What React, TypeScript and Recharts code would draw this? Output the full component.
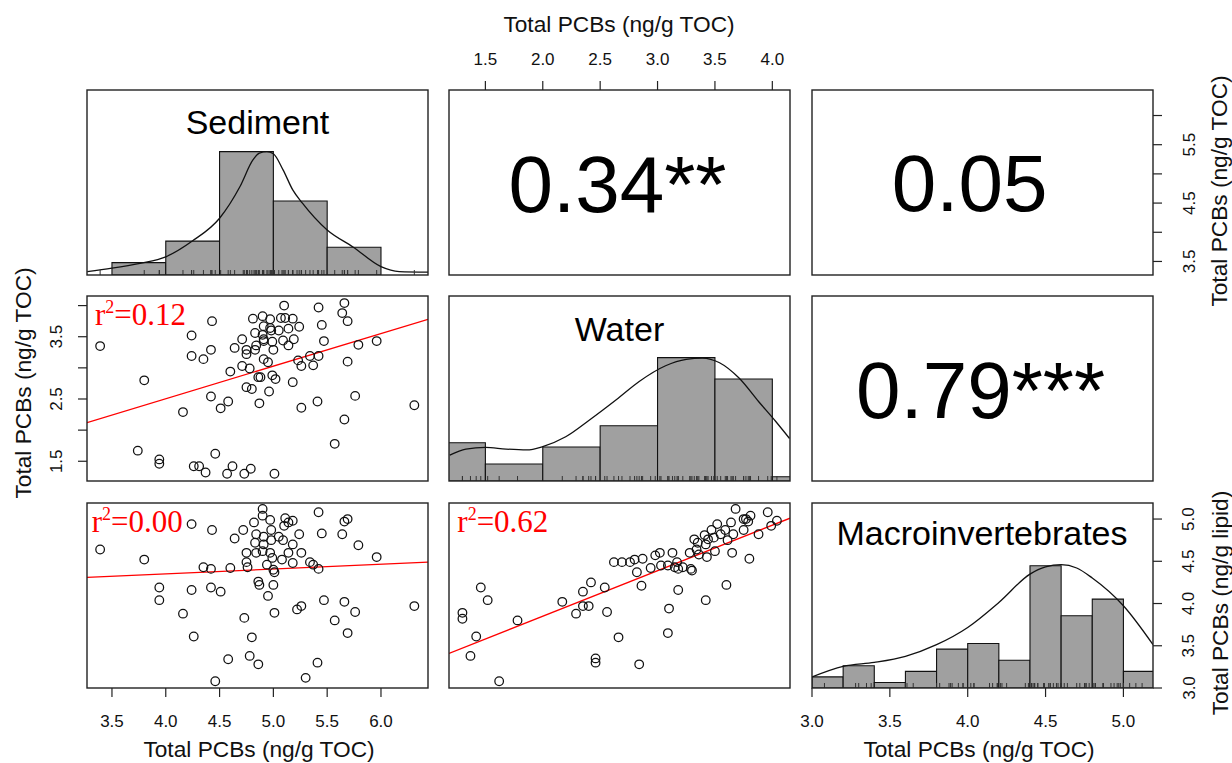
import React from "react";
import { ComposedChart, XAxis, YAxis, Line, Scatter, ReferenceArea } from "recharts";

const FONT = "'Liberation Sans', Arial, Helvetica, sans-serif";
const SERIF = "'Liberation Serif', 'Times New Roman', serif";

type Pt = [number, number];

// axis ranges (data range + 4%, as R draws them)
const sedDomain = [3.268, 6.437];
const waterDomain = [1.183, 4.154];
const macroDomain = [3.0, 5.19];

const sedTicks = [3.5, 4.0, 4.5, 5.0, 5.5, 6.0];
const sedSideLabels = [3.5, 4.5, 5.5];
const waterTicks = [1.5, 2.0, 2.5, 3.0, 3.5, 4.0];
const waterSideLabels = [1.5, 2.5, 3.5];
const macroTicks = [3.0, 3.5, 4.0, 4.5, 5.0];

// histograms (counts per bin)
const sedBreaks = [3.5, 4.0, 4.5, 5.0, 5.5, 6.0];
const sedCounts = [4, 11, 40, 24, 9];
const waterBreaks = [1.0, 1.5, 2.0, 2.5, 3.0, 3.5, 4.0, 4.5];
const waterCounts = [9, 4, 8, 13, 29, 24, 1];
const macroBreaks = [3.0, 3.2, 3.4, 3.6, 3.8, 4.0, 4.2, 4.4, 4.6, 4.8, 5.0, 5.2];
const macroCounts = [2, 4, 1, 3, 7, 8, 5, 22, 13, 16, 3];
const sedHistMax = 60;
const waterHistMax = 43.5;
const macroHistMax = 33.3;

// density curves, in count units
const sedDensity: Pt[] = [
  [3.27, 1.1], [3.5, 2.2], [3.76, 3.8], [4.0, 5.9], [4.25, 11.1], [4.5, 18.4], [4.69, 28.7],
  [4.81, 37.3], [4.87, 39.5], [4.94, 40.0], [5.0, 39.3], [5.09, 34.1], [5.18, 27.6], [5.27, 23.3],
  [5.5, 14.6], [5.74, 9.1], [6.0, 2.7], [6.17, 1.1], [6.44, 0.9],
];
const waterDensity: Pt[] = [
  [1.19, 6.1], [1.33, 7.5], [1.5, 7.9], [1.68, 7.5], [1.86, 7.3], [2.0, 8.1], [2.2, 10.4],
  [2.41, 14.4], [2.64, 19.1], [2.84, 23.4], [3.07, 27.1], [3.25, 28.6], [3.39, 28.9],
  [3.54, 27.8], [3.71, 24.2], [3.88, 18.7], [4.03, 14.0], [4.15, 10.0],
];
const macroDensity: Pt[] = [
  [3.0, 2.0], [3.2, 3.9], [3.4, 4.6], [3.6, 5.7], [3.8, 7.8], [4.0, 10.9], [4.2, 15.4],
  [4.4, 20.5], [4.5, 21.8], [4.6, 22.2], [4.7, 21.6], [4.8, 19.8], [5.0, 14.8], [5.19, 7.8],
];

// scatter panels
const sedVsWater: Pt[] = [
  [3.39, 3.35], [3.8, 2.8], [3.74, 1.67], [3.94, 1.53], [3.94, 1.46], [4.16, 2.29], [4.24, 3.52],
  [4.24, 3.19], [4.26, 1.42], [4.31, 1.42], [4.35, 3.14], [4.37, 1.32], [4.42, 3.29], [4.43, 3.75],
  [4.42, 2.54], [4.46, 1.62], [4.51, 2.35], [4.58, 2.46], [4.57, 1.3], [4.62, 1.42], [4.6, 2.94],
  [4.64, 3.32], [4.71, 3.46], [4.71, 3.03], [4.73, 1.3], [4.75, 3.29], [4.75, 3.22], [4.75, 2.69],
  [4.78, 2.99], [4.79, 1.38], [4.8, 2.66], [4.81, 3.79], [4.83, 3.56], [4.84, 3.36], [4.83, 3.29],
  [4.86, 2.85], [4.87, 2.43], [4.88, 2.85], [4.9, 3.83], [4.91, 3.67], [4.9, 3.53], [4.91, 3.46],
  [4.91, 3.43], [4.91, 3.14], [4.95, 3.09], [4.96, 2.62], [4.97, 3.78], [4.97, 3.64], [4.98, 3.6],
  [4.99, 3.42], [4.99, 2.88], [5.0, 3.29], [5.02, 2.82], [5.01, 1.3], [5.05, 3.6], [5.07, 3.8],
  [5.1, 4.0], [5.09, 3.44], [5.11, 3.8], [5.14, 3.63], [5.14, 3.36], [5.18, 2.77], [5.18, 3.79],
  [5.19, 3.46], [5.24, 3.66], [5.23, 3.12], [5.26, 2.36], [5.26, 3.03], [5.34, 3.19], [5.37, 3.04],
  [5.41, 2.46], [5.42, 3.97], [5.42, 3.19], [5.45, 3.69], [5.47, 3.43], [5.57, 1.78], [5.64, 3.88],
  [5.66, 4.04], [5.66, 2.17], [5.69, 3.75], [5.69, 3.1], [5.76, 2.55], [5.79, 3.37], [5.96, 3.43],
  [6.31, 2.4],
];
const sedVsMacro: Pt[] = [
  [3.39, 4.64], [3.8, 4.52], [3.94, 4.19], [3.94, 4.04], [4.16, 3.88], [4.24, 4.94], [4.24, 4.16],
  [4.26, 3.61], [4.35, 4.43], [4.43, 4.87], [4.42, 4.41], [4.42, 4.19], [4.46, 3.08], [4.51, 4.14],
  [4.58, 3.34], [4.6, 4.42], [4.64, 4.77], [4.72, 4.87], [4.73, 3.83], [4.75, 4.49], [4.76, 4.43],
  [4.75, 4.6], [4.78, 3.38], [4.8, 3.6], [4.82, 4.96], [4.83, 4.72], [4.84, 4.82], [4.84, 4.6],
  [4.86, 4.26], [4.87, 4.22], [4.86, 3.28], [4.9, 5.12], [4.9, 5.04], [4.91, 4.79], [4.91, 4.7],
  [4.9, 4.62], [4.94, 4.46], [4.95, 4.09], [4.97, 4.99], [4.97, 4.6], [4.98, 4.87], [4.98, 4.75],
  [4.99, 4.54], [5.0, 4.4], [5.01, 4.37], [5.0, 4.22], [5.01, 3.89], [5.05, 4.79], [5.08, 4.52],
  [5.09, 4.75], [5.1, 4.92], [5.11, 5.01], [5.14, 4.96], [5.14, 4.6], [5.18, 4.98], [5.18, 4.7],
  [5.18, 4.48], [5.22, 3.93], [5.26, 3.97], [5.24, 4.82], [5.26, 4.6], [5.3, 3.12], [5.34, 4.49],
  [5.37, 4.46], [5.41, 3.3], [5.42, 5.08], [5.42, 4.41], [5.45, 4.83], [5.47, 4.04], [5.57, 3.8],
  [5.64, 4.82], [5.66, 4.97], [5.66, 4.02], [5.69, 5.0], [5.69, 3.65], [5.76, 3.9], [5.79, 4.69],
  [5.96, 4.55], [6.31, 3.97],
];
const waterVsMacro: Pt[] = [
  [1.3, 3.89], [1.3, 3.82], [1.37, 3.38], [1.42, 3.61], [1.46, 4.19], [1.52, 4.04], [1.62, 3.08],
  [1.78, 3.8], [2.17, 4.02], [2.29, 3.88], [2.35, 4.14], [2.35, 3.97], [2.4, 3.97], [2.42, 4.25],
  [2.46, 3.35], [2.46, 3.3], [2.54, 4.19], [2.56, 3.9], [2.62, 4.49], [2.69, 4.49], [2.66, 3.6],
  [2.76, 4.49], [2.8, 4.52], [2.82, 4.37], [2.84, 3.28], [2.86, 4.21], [2.87, 4.53], [2.94, 4.42],
  [2.98, 4.57], [3.02, 4.6], [3.03, 4.45], [3.09, 4.45], [3.09, 3.65], [3.1, 3.94], [3.13, 4.6],
  [3.15, 4.43], [3.17, 4.49], [3.18, 4.41], [3.18, 4.16], [3.22, 4.43], [3.28, 4.6], [3.29, 4.41],
  [3.3, 4.39], [3.32, 4.76], [3.34, 4.64], [3.35, 4.72], [3.36, 4.58], [3.41, 4.81], [3.42, 4.7],
  [3.42, 4.04], [3.43, 4.55], [3.44, 4.76], [3.47, 4.87], [3.49, 4.78], [3.5, 4.62], [3.52, 4.94],
  [3.55, 4.82], [3.59, 4.87], [3.6, 4.22], [3.61, 4.75], [3.64, 4.96], [3.65, 4.6], [3.66, 4.82],
  [3.68, 5.12], [3.75, 4.87], [3.75, 5.0], [3.77, 5.0], [3.79, 4.97], [3.81, 5.04], [3.8, 4.53],
  [3.88, 4.82], [3.96, 5.08], [3.99, 4.92], [4.04, 4.98],
];

// fitted lines, end points read at the panel edges
const sedWaterFit: Pt[] = [[3.268, 2.12], [6.437, 3.78]];
const sedMacroFit: Pt[] = [[3.268, 4.31], [6.437, 4.49]];
const waterMacroFit: Pt[] = [[1.183, 3.41], [4.154, 5.01]];

// layout
const PW = 341;
const PH = 185;
const colX = [87, 449, 812];
const rowY = [90, 296, 503];

const toXY = (pts: Pt[]) => pts.map(([x, y]) => ({ x, y }));
const toRug = (vals: number[]) => vals.map((x) => ({ x, y: 0 }));
const toBins = (br: number[], counts: number[]) =>
  counts.map((n, i) => ({ x1: br[i], x2: br[i + 1], n }));

const sedRug = toRug(sedVsMacro.map((p) => p[0]));
const waterRug = toRug(waterVsMacro.map((p) => p[0]));
const macroRug = toRug(waterVsMacro.map((p) => p[1]));

const ring = (p: any) => (
  <circle cx={p.cx} cy={p.cy} r={4.3} fill="none" stroke="#111" strokeWidth={1.25} />
);
const rugTick = (p: any) => (
  <line x1={p.cx} x2={p.cx} y1={p.cy} y2={p.cy - 5} stroke="#333" strokeWidth={1} />
);

const tickLine = { stroke: "#222", strokeWidth: 1.2 };
const noMargin = { top: 0, right: 0, bottom: 0, left: 0 };

const flatTick = (labelY: number) => (p: any) => (
  <text x={p.x} y={labelY} textAnchor="middle" fontSize={17} fill="#111" fontFamily={FONT}>
    {Number(p.payload.value).toFixed(1)}
  </text>
);
const sideTick = (labelX: number, shown: number[]) => (p: any) => {
  const v = Number(p.payload.value);
  if (!shown.some((s) => Math.abs(s - v) < 1e-6)) return <g />;
  return (
    <text
      x={labelX}
      y={p.y}
      transform={`rotate(-90 ${labelX} ${p.y})`}
      textAnchor="middle"
      fontSize={17}
      fill="#111"
      fontFamily={FONT}
    >
      {v.toFixed(1)}
    </text>
  );
};

function histLayers(br: number[], counts: number[], dens: Pt[], rug: any[], yId: string | number = 0) {
  return [
    ...toBins(br, counts).map((b, i) => (
      <ReferenceArea
        key={"b" + i}
        yAxisId={yId}
        x1={b.x1}
        x2={b.x2}
        y1={0}
        y2={b.n}
        fill="#a0a0a0"
        fillOpacity={1}
        stroke="#111"
        strokeWidth={1.1}
        ifOverflow="hidden"
      />
    )),
    <Line
      key="dens"
      yAxisId={yId}
      data={toXY(dens)}
      dataKey="y"
      type="monotone"
      stroke="#111"
      strokeWidth={1.3}
      dot={false}
      activeDot={false}
      isAnimationActive={false}
    />,
    <Scatter key="rug" yAxisId={yId} data={rug} shape={rugTick} isAnimationActive={false} />,
  ];
}

function scatterLayers(pts: Pt[], fit: Pt[]) {
  return [
    <Scatter key="pts" data={toXY(pts)} shape={ring} isAnimationActive={false} />,
    <Line
      key="fit"
      data={toXY(fit)}
      dataKey="y"
      type="linear"
      stroke="#ff0000"
      strokeWidth={1.3}
      dot={false}
      activeDot={false}
      isAnimationActive={false}
    />,
  ];
}

const Place = ({ left, top, children }: { left: number; top: number; children: React.ReactNode }) => (
  <div style={{ position: "absolute", left, top }}>{children}</div>
);

const R2 = ({ x, y, v }: { x: number; y: number; v: string }) => (
  <text x={x} y={y} fontFamily={SERIF} fontSize={31} fill="#ff0000">
    r
    <tspan fontSize={18} dy={-12}>
      2
    </tspan>
    <tspan dy={12}>={v}</tspan>
  </text>
);

const YTitle = ({ x, y, t }: { x: number; y: number; t: string }) => (
  <text x={x} y={y} transform={`rotate(-90 ${x} ${y})`} textAnchor="middle" fontSize={22.7} fill="#111">
    {t}
  </text>
);

export default function App() {
  const [c1, c2, c3] = colX;
  const [r1, r2, r3] = rowY;
  return (
    <div
      style={{
        position: "absolute",
        left: 0,
        top: 0,
        width: 1232,
        height: 763,
        background: "#fff",
        fontFamily: FONT,
      }}
    >
      {/* row 1 */}
      <Place left={c1} top={r1}>
        <ComposedChart width={PW} height={PH} margin={noMargin}>
          <XAxis hide type="number" dataKey="x" domain={sedDomain} allowDataOverflow />
          <YAxis hide type="number" dataKey="y" domain={[0, sedHistMax]} allowDataOverflow />
          {histLayers(sedBreaks, sedCounts, sedDensity, sedRug)}
        </ComposedChart>
      </Place>
      <Place left={c2} top={r1 - 40}>
        <ComposedChart width={PW} height={PH + 40} margin={noMargin}>
          <XAxis
            orientation="top"
            type="number"
            dataKey="x"
            domain={waterDomain}
            allowDataOverflow
            ticks={waterTicks}
            interval={0}
            height={40}
            tickSize={9}
            tickLine={tickLine}
            axisLine={false}
            tick={flatTick(14.5)}
          />
          <YAxis hide type="number" dataKey="y" domain={[0, 1]} />
        </ComposedChart>
      </Place>
      <Place left={c3} top={r1}>
        <ComposedChart width={PW + 45} height={PH} margin={noMargin}>
          <XAxis hide type="number" dataKey="x" domain={[0, 1]} />
          <YAxis
            orientation="right"
            type="number"
            dataKey="y"
            domain={sedDomain}
            allowDataOverflow
            ticks={sedTicks}
            interval={0}
            width={45}
            tickSize={9}
            tickLine={tickLine}
            axisLine={false}
            tick={sideTick(383, sedSideLabels)}
          />
        </ComposedChart>
      </Place>

      {/* row 2 */}
      <Place left={c1 - 46} top={r2}>
        <ComposedChart width={PW + 46} height={PH} margin={noMargin}>
          <XAxis hide type="number" dataKey="x" domain={sedDomain} allowDataOverflow />
          <YAxis
            type="number"
            dataKey="y"
            domain={waterDomain}
            allowDataOverflow
            ticks={waterTicks}
            interval={0}
            width={46}
            tickSize={9}
            tickLine={tickLine}
            axisLine={false}
            tick={sideTick(20.7, waterSideLabels)}
          />
          {scatterLayers(sedVsWater, sedWaterFit)}
        </ComposedChart>
      </Place>
      <Place left={c2} top={r2}>
        <ComposedChart width={PW} height={PH} margin={noMargin}>
          <XAxis hide type="number" dataKey="x" domain={waterDomain} allowDataOverflow />
          <YAxis hide type="number" dataKey="y" domain={[0, waterHistMax]} allowDataOverflow />
          {histLayers(waterBreaks, waterCounts, waterDensity, waterRug)}
        </ComposedChart>
      </Place>

      {/* row 3 */}
      <Place left={c1} top={r3}>
        <ComposedChart width={PW} height={PH + 50} margin={noMargin}>
          <XAxis
            type="number"
            dataKey="x"
            domain={sedDomain}
            allowDataOverflow
            ticks={sedTicks}
            interval={0}
            height={50}
            tickSize={9}
            tickLine={tickLine}
            axisLine={false}
            tick={flatTick(223.5)}
          />
          <YAxis hide type="number" dataKey="y" domain={macroDomain} allowDataOverflow />
          {scatterLayers(sedVsMacro, sedMacroFit)}
        </ComposedChart>
      </Place>
      <Place left={c2} top={r3}>
        <ComposedChart width={PW} height={PH} margin={noMargin}>
          <XAxis hide type="number" dataKey="x" domain={waterDomain} allowDataOverflow />
          <YAxis hide type="number" dataKey="y" domain={macroDomain} allowDataOverflow />
          {scatterLayers(waterVsMacro, waterMacroFit)}
        </ComposedChart>
      </Place>
      <Place left={c3 - 20} top={r3}>
        <ComposedChart width={PW + 65} height={PH + 50} margin={{ top: 0, right: 0, bottom: 0, left: 20 }}>
          <XAxis
            type="number"
            dataKey="x"
            domain={macroDomain}
            allowDataOverflow
            ticks={macroTicks}
            interval={0}
            height={50}
            tickSize={9}
            tickLine={tickLine}
            axisLine={false}
            tick={flatTick(223.5)}
          />
          <YAxis yAxisId="c" hide type="number" dataKey="y" domain={[0, macroHistMax]} allowDataOverflow />
          <YAxis
            yAxisId="m"
            orientation="right"
            type="number"
            domain={macroDomain}
            allowDataOverflow
            ticks={macroTicks}
            interval={0}
            width={45}
            tickSize={9}
            tickLine={tickLine}
            axisLine={false}
            tick={sideTick(402.5, macroTicks)}
          />
          {histLayers(macroBreaks, macroCounts, macroDensity, macroRug, "c")}
        </ComposedChart>
      </Place>

      {/* frames and text */}
      <svg
        width={1232}
        height={763}
        style={{ position: "absolute", left: 0, top: 0, pointerEvents: "none" }}
        fontFamily={FONT}
      >
        {rowY.map((ry) =>
          colX.map((cx) => (
            <rect key={cx + "-" + ry} x={cx} y={ry} width={PW} height={PH} fill="none" stroke="#222" strokeWidth={1.4} />
          ))
        )}
        <text x={257.5} y={134} textAnchor="middle" fontSize={34} fill="#000">Sediment</text>
        <text x={619.5} y={340.5} textAnchor="middle" fontSize={34} fill="#000">Water</text>
        <text x={982} y={545} textAnchor="middle" fontSize={34} fill="#000">Macroinvertebrates</text>

        <text x={617.5} y={211.7} textAnchor="middle" fontSize={80} fill="#000">0.34**</text>
        <text x={891.7} y={210.7} textAnchor="start" fontSize={80} fill="#000">0.05</text>
        <text x={980.5} y={417.5} textAnchor="middle" fontSize={80} fill="#000">0.79***</text>

        <R2 x={95} y={325} v="0.12" />
        <R2 x={91.7} y={531.7} v="0.00" />
        <R2 x={457.3} y={532.3} v="0.62" />

        <text x={619} y={31.7} textAnchor="middle" fontSize={22.7} fill="#111">Total PCBs (ng/g TOC)</text>
        <text x={259} y={756.5} textAnchor="middle" fontSize={22.7} fill="#111">Total PCBs (ng/g TOC)</text>
        <text x={979} y={756.5} textAnchor="middle" fontSize={22.7} fill="#111">Total PCBs (ng/g TOC)</text>
        <YTitle x={31} y={383} t="Total PCBs (ng/g TOC)" />
        <YTitle x={1227} y={191} t="Total PCBs (ng/g TOC)" />
        <YTitle x={1227.5} y={603} t="Total PCBs (ng/g lipid)" />
      </svg>
    </div>
  );
}
